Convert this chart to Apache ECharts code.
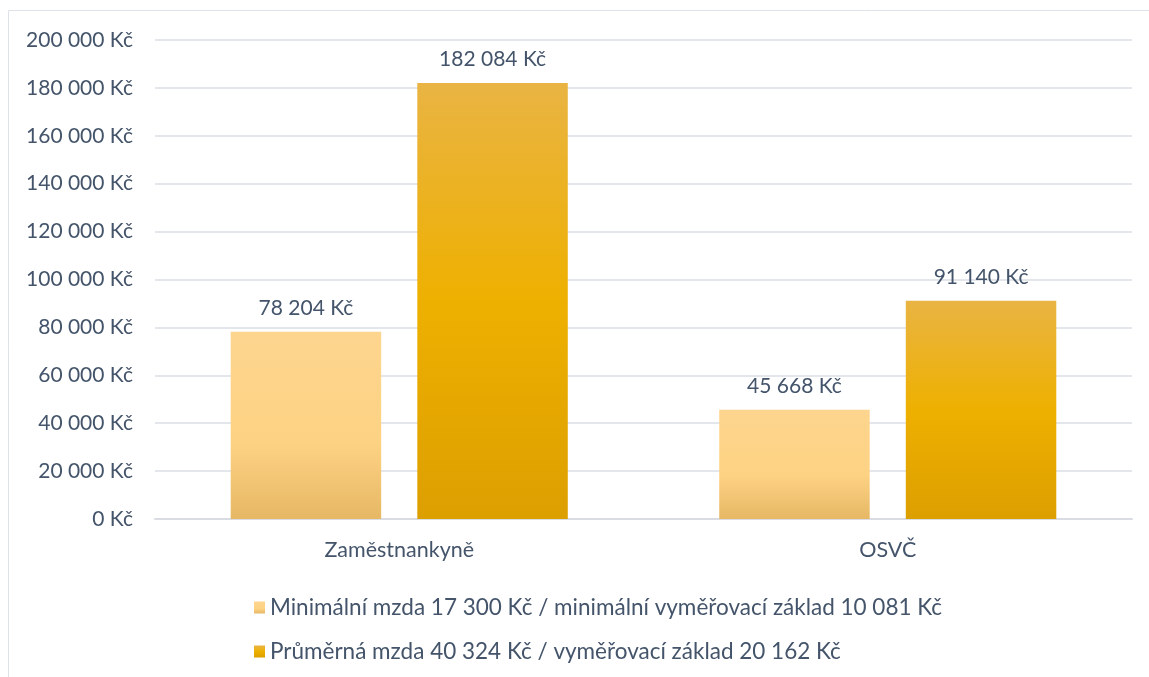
<!DOCTYPE html>
<html>
<head>
<meta charset="utf-8">
<script src="https://cdn.jsdelivr.net/npm/echarts@6/dist/echarts.min.js"></script>
<style>
  html, body { margin: 0; padding: 0; background: #fff; }
  #chart { width: 1149px; height: 677px; }
</style>
</head>
<body>
<div id="chart"></div>
<script>
// data
var categories = ['Zaměstnankyně', 'OSVČ'];
var minimalni = [78204, 45668];
var prumerna = [182084, 91140];
var seriesNames = [
  'Minimální mzda 17 300 Kč / minimální vyměřovací základ 10 081 Kč',
  'Průměrná mzda 40 324 Kč / vyměřovací základ 20 162 Kč'
];

var textColor = '#44546a';
var fontName = 'Lato, "Open Sans", sans-serif';

function kc(v) {
  return String(v).replace(/\B(?=(\d{3})+(?!\d))/g, ' ') + ' Kč';
}

var lightFill = new echarts.graphic.LinearGradient(0, 0, 0, 1, [
  { offset: 0, color: '#fdd58e' },
  { offset: 0.6, color: '#fdd283' },
  { offset: 1, color: '#e6b865' }
]);
var darkFill = new echarts.graphic.LinearGradient(0, 0, 0, 1, [
  { offset: 0, color: '#e9b443' },
  { offset: 0.5, color: '#eeb000' },
  { offset: 1, color: '#dc9f00' }
]);

var myChart = echarts.init(document.getElementById('chart'));
myChart.setOption({
  backgroundColor: '#ffffff',
  animation: false,
  textStyle: { fontFamily: fontName },
  graphic: [{
    type: 'rect',
    shape: { x: 8.5, y: 10.5, width: 1180, height: 700 },
    style: { fill: 'none', stroke: '#dde2e8', lineWidth: 1 },
    silent: true
  }],
  grid: { left: 155, right: 17, top: 40, bottom: 158, containLabel: false },
  legend: {
    orient: 'vertical',
    left: 249,
    top: 591,
    itemGap: 21,
    itemWidth: 11,
    itemHeight: 12,
    itemTextGap: 9,
    icon: 'rect',
    textStyle: { color: textColor, fontSize: 22.5, fontFamily: fontName },
    data: seriesNames
  },
  xAxis: {
    type: 'category',
    data: categories,
    axisLine: { lineStyle: { color: '#d9dde3', width: 2 } },
    axisTick: { show: false },
    axisLabel: { color: textColor, fontSize: 21.5, margin: 20, fontFamily: fontName }
  },
  yAxis: {
    type: 'value',
    min: 0,
    max: 200000,
    interval: 20000,
    axisLine: { show: false },
    axisTick: { show: false },
    axisLabel: {
      color: textColor, fontSize: 21, margin: 22, fontFamily: fontName,
      formatter: kc
    },
    splitLine: { lineStyle: { color: '#e3e6eb', width: 2 } }
  },
  series: [
    {
      name: seriesNames[0],
      type: 'bar',
      data: minimalni,
      barGap: '24%',
      barCategoryGap: '31%',
      itemStyle: { color: lightFill },
      label: {
        show: true, position: 'top', distance: 13,
        color: textColor, fontSize: 21, fontFamily: fontName,
        formatter: function (p) { return kc(p.value); }
      }
    },
    {
      name: seriesNames[1],
      type: 'bar',
      data: prumerna,
      itemStyle: { color: darkFill },
      label: {
        show: true, position: 'top', distance: 13,
        color: textColor, fontSize: 21, fontFamily: fontName,
        formatter: function (p) { return kc(p.value); }
      }
    }
  ]
});
</script>
</body>
</html>
